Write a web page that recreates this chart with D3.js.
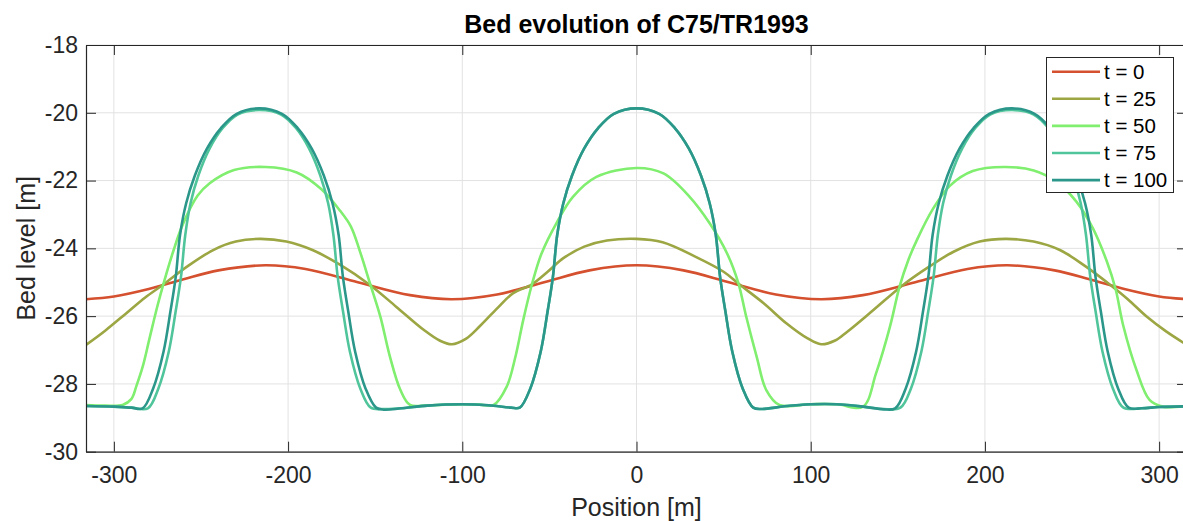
<!DOCTYPE html>
<html>
<head>
<meta charset="utf-8">
<script src="https://cdn.jsdelivr.net/npm/d3@7"></script>
<style>
    body { margin: 0; background: #fff; }
    svg { display: block; font-family: "Liberation Sans", Arial, Helvetica, sans-serif; }
</style>
</head>
<body>
<script>
'use strict';

// ticks
const xTicks = [-300, -200, -100, 0, 100, 200, 300];
const yTicks = [-30, -28, -26, -24, -22, -20, -18];

const times = [0, 25, 50, 75, 100];
const colors = ['#d4502e', '#9ca642', '#80ee6e', '#50c59b', '#2b978a'];

// position [m] and bed level [m]
const posT0 = [-316, -300, -280, -260, -240, -213, -190, -160, -130, -106, -80, -53, -27, 0,
    27, 53, 80, 106, 130, 160, 190, 213, 240, 260, 280, 300, 316];
const bedT0 = [-25.50, -25.42, -25.20, -24.91, -24.65, -24.50, -24.61, -25.00, -25.38, -25.50, -25.36, -25.00, -24.65, -24.50,
    -24.65, -25.00, -25.36, -25.50, -25.38, -25.00, -24.61, -24.50, -24.65, -24.91, -25.20, -25.42, -25.50];

const posT25 = [-316, -305, -293, -282, -272, -258, -243, -230, -216, -201, -186, -170, -153, -138, -122,
    -113, -106, -98, -90, -80, -71, -60, -51, -42, -30, -17, 0, 15, 34, 50,
    59, 73, 86, 98, 106, 114, 121, 136, 153, 168, 182, 197, 212, 228, 243,
    258, 272, 282, 293, 304, 316];
const bedT25 = [-26.85, -26.43, -25.92, -25.45, -25.08, -24.54, -24.05, -23.80, -23.72, -23.80, -24.05, -24.49, -25.08, -25.72, -26.41,
    -26.72, -26.83, -26.67, -26.30, -25.77, -25.33, -25.06, -24.69, -24.29, -23.95, -23.77, -23.72, -23.82, -24.25, -24.69,
    -25.06, -25.62, -26.21, -26.65, -26.83, -26.72, -26.46, -25.82, -25.08, -24.54, -24.10, -23.80, -23.72, -23.80, -24.05,
    -24.54, -25.08, -25.50, -26.02, -26.45, -26.85];

const posT50 = [-316, -305, -295, -290, -287, -283.5, -279.5, -275, -271, -266, -260.5, -252, -245, -231, -213,
    -195, -181, -170, -164, -159, -153, -147, -141.5, -135.5, -130, -120, -100, -90, -82, -74.5,
    -69.5, -65, -60, -54.5, -46, -36.5, -23, 0, 15.5, 30.5, 42, 52, 58.5, 63, 69,
    74.5, 82, 100, 115, 130, 137.5, 145.5, 151, 156, 161, 170, 180, 193, 211, 228,
    241, 252.5, 262, 270, 275, 279.5, 287, 294.5, 302, 316];
const bedT50 = [-28.62, -28.64, -28.62, -28.45, -28.05, -27.50, -26.65, -25.70, -24.95, -24.10, -23.30, -22.45, -22.08, -21.69, -21.60,
    -21.76, -22.25, -22.90, -23.35, -24.05, -25.03, -26.02, -27.20, -28.18, -28.62, -28.63, -28.60, -28.61, -28.62, -28.08,
    -27.20, -26.11, -25.06, -24.15, -23.26, -22.48, -21.89, -21.63, -21.79, -22.48, -23.26, -24.15, -25.03, -26.02, -27.20,
    -28.18, -28.62, -28.60, -28.60, -28.67, -27.69, -26.31, -25.13, -24.35, -23.75, -22.85, -22.15, -21.72, -21.60, -21.70,
    -22.03, -22.62, -23.41, -24.39, -25.20, -26.30, -27.59, -28.47, -28.67, -28.65];

const posT75 = [-316, -300, -290,
    -280.5, -274.5, -268.5, -264.5, -261.5, -259, -256, -251.5, -245, -237.5, -229, -216.5,
    -204, -195.5, -188, -181.5, -177, -174, -171.5, -168.5, -164.5, -158.5, -152.5,
    -145, -135, -120, -100, -85, -72, -67,
    -61, -55, -51, -48, -45.5, -42, -37, -30, -22, -13, 0, 13, 22, 30, 37, 42, 45.5, 48, 51, 55, 61, 67,
    72, 85, 100, 115, 130, 142,
    151.5, 157.5, 163.5, 167.5, 170.5, 173, 176, 180.5, 187, 194.5, 203, 215.5,
    228, 236.5, 244, 250.5, 255, 258, 260.5, 263.5, 267.5, 273.5, 279.5,
    290, 300, 316];
const bedT75 = [-28.65, -28.67, -28.70,
    -28.72, -28.14, -27.05, -25.85, -24.85, -23.60, -22.67, -21.85, -21.05, -20.45, -20.05, -19.92,
    -20.05, -20.45, -21.05, -21.85, -22.67, -23.60, -24.85, -25.85, -27.05, -28.14, -28.70,
    -28.74, -28.72, -28.64, -28.60, -28.63, -28.70, -28.70,
    -28.14, -27.05, -25.85, -24.85, -23.60, -22.67, -21.85, -21.05, -20.45, -20.03, -19.87, -20.03, -20.45, -21.05, -21.85, -22.67, -23.60, -24.85, -25.85, -27.05, -28.14, -28.70,
    -28.74, -28.66, -28.60, -28.60, -28.67, -28.74,
    -28.70, -28.14, -27.05, -25.85, -24.85, -23.60, -22.67, -21.85, -21.05, -20.45, -20.05, -19.92,
    -20.05, -20.45, -21.05, -21.85, -22.67, -23.60, -24.85, -25.85, -27.05, -28.14, -28.70,
    -28.72, -28.68, -28.66];

const posT100 = [-316, -300, -290, -283.5,
    -277.5, -271.5, -267.5, -264.5, -262, -258.5, -253.5, -246.5, -238.5, -229.5, -216.5,
    -203.5, -194.5, -186.5, -179.5, -174.5, -171, -168.5, -165.5, -161.5, -155.5, -149.5,
    -145, -135, -120, -100, -85, -72, -67,
    -61, -55, -51, -48, -45.5, -42, -37, -30, -22, -13, 0, 13, 22, 30, 37, 42, 45.5, 48, 51, 55, 61, 67,
    72, 85, 100, 115, 130, 142, 148.5,
    154.5, 160.5, 164.5, 167.5, 170, 173.5, 178.5, 185.5, 193.5, 202.5, 215.5,
    228.5, 237.5, 245.5, 252.5, 257.5, 261, 263.5, 266.5, 270.5, 276.5, 282.5,
    290, 300, 316];
const bedT100 = [-28.65, -28.67, -28.70, -28.72,
    -28.14, -27.05, -25.85, -24.85, -23.60, -22.67, -21.85, -21.05, -20.45, -20.03, -19.87,
    -20.03, -20.45, -21.05, -21.85, -22.67, -23.60, -24.85, -25.85, -27.05, -28.14, -28.70,
    -28.76, -28.72, -28.64, -28.60, -28.63, -28.70, -28.70,
    -28.14, -27.05, -25.85, -24.85, -23.60, -22.67, -21.85, -21.05, -20.45, -20.03, -19.87, -20.03, -20.45, -21.05, -21.85, -22.67, -23.60, -24.85, -25.85, -27.05, -28.14, -28.70,
    -28.74, -28.66, -28.60, -28.60, -28.67, -28.75, -28.72,
    -28.14, -27.05, -25.85, -24.85, -23.60, -22.67, -21.85, -21.05, -20.45, -20.03, -19.87,
    -20.03, -20.45, -21.05, -21.85, -22.67, -23.60, -24.85, -25.85, -27.05, -28.14, -28.70,
    -28.72, -28.68, -28.66];

(function () {
    const width = 1183, height = 521;
    const left = 86, right = 1187, top = 45, bottom = 451.7;

    const svg = d3.select('body').append('svg')
        .attr('width', width)
        .attr('height', height);

    const x = d3.scaleLinear().domain([-316, 316]).range([left, right]);
    const y = d3.scaleLinear().domain([-30, -18]).range([bottom, top]);

    // grid
    svg.append('g').selectAll('line.gx')
        .data(xTicks).enter().append('line')
        .attr('x1', d => x(d)).attr('x2', d => x(d))
        .attr('y1', top).attr('y2', bottom)
        .attr('stroke', '#e2e2e2').attr('stroke-width', 1);
    svg.append('g').selectAll('line.gy')
        .data(yTicks).enter().append('line')
        .attr('x1', left).attr('x2', right)
        .attr('y1', d => y(d)).attr('y2', d => y(d))
        .attr('stroke', '#e2e2e2').attr('stroke-width', 1);

    // lines, clipped to the axes box
    svg.append('clipPath').attr('id', 'plot')
        .append('rect')
        .attr('x', left).attr('y', top)
        .attr('width', right - left).attr('height', bottom - top);

    const series = [
        { pos: posT0, bed: bedT0 },
        { pos: posT25, bed: bedT25 },
        { pos: posT50, bed: bedT50 },
        { pos: posT75, bed: bedT75 },
        { pos: posT100, bed: bedT100 }
    ];

    const line = d3.line()
        .x(d => x(d[0]))
        .y(d => y(d[1]))
        .curve(d3.curveCatmullRom.alpha(0.5));

    svg.append('g').attr('clip-path', 'url(#plot)')
        .selectAll('path')
        .data(series).enter().append('path')
        .attr('d', s => line(s.pos.map((p, i) => [p, s.bed[i]])))
        .attr('fill', 'none')
        .attr('stroke', (s, i) => colors[i])
        .attr('stroke-width', 2.6)
        .attr('stroke-linejoin', 'round');

    // axes, ticks pointing in, plain hyphen for minus
    const fmt = d => String(d);
    function styleAxis(g) {
        g.select('.domain').attr('stroke', '#262626').attr('stroke-width', 1.2);
        g.selectAll('.tick line').attr('stroke', '#262626').attr('stroke-width', 1);
        g.selectAll('.tick text').attr('fill', '#262626').style('font-size', '23px')
            .style('font-family', '"Liberation Sans", Arial, sans-serif');
    }

    svg.append('g')
        .attr('transform', 'translate(0,' + bottom + ')')
        .call(d3.axisBottom(x).tickValues(xTicks).tickFormat(fmt).tickSize(-10).tickSizeOuter(0).tickPadding(15))
        .call(styleAxis);
    svg.append('g')
        .attr('transform', 'translate(0,' + top + ')')
        .call(d3.axisTop(x).tickValues(xTicks).tickSize(-10).tickSizeOuter(0).tickFormat(''))
        .call(styleAxis);
    svg.append('g')
        .attr('transform', 'translate(' + left + ',0)')
        .call(d3.axisLeft(y).tickValues(yTicks).tickFormat(fmt).tickSize(-10).tickSizeOuter(0).tickPadding(8))
        .call(styleAxis);
    svg.append('g')
        .attr('transform', 'translate(' + right + ',0)')
        .call(d3.axisRight(y).tickValues(yTicks).tickSize(-10).tickSizeOuter(0).tickFormat(''))
        .call(styleAxis);

    // title and labels
    svg.append('text')
        .attr('x', x(0)).attr('y', 33)
        .attr('text-anchor', 'middle')
        .style('font-size', '25px').style('font-weight', 'bold')
        .attr('fill', '#000')
        .text('Bed evolution of C75/TR1993');

    svg.append('text')
        .attr('x', x(0)).attr('y', 516)
        .attr('text-anchor', 'middle')
        .style('font-size', '25px')
        .attr('fill', '#262626')
        .text('Position [m]');

    svg.append('text')
        .attr('transform', 'translate(35,' + ((top + bottom) / 2) + ') rotate(-90)')
        .attr('text-anchor', 'middle')
        .style('font-size', '25px')
        .attr('fill', '#262626')
        .text('Bed level [m]');

    // legend
    const legend = svg.append('g');
    legend.append('rect')
        .attr('x', 1046.5).attr('y', 57.5)
        .attr('width', 127).attr('height', 135)
        .attr('fill', '#fff').attr('stroke', '#262626').attr('stroke-width', 1);

    const rows = legend.selectAll('g.row')
        .data(times).enter().append('g')
        .attr('transform', (d, i) => 'translate(0,' + (71.7 + i * 27.1) + ')');
    rows.append('line')
        .attr('x1', 1052).attr('x2', 1100)
        .attr('stroke', (d, i) => colors[i])
        .attr('stroke-width', 2.6);
    rows.append('text')
        .attr('x', 1104).attr('dy', '0.35em')
        .style('font-size', '20.5px')
        .attr('fill', '#000')
        .text(d => 't = ' + d);
})();
</script>
</body>
</html>
